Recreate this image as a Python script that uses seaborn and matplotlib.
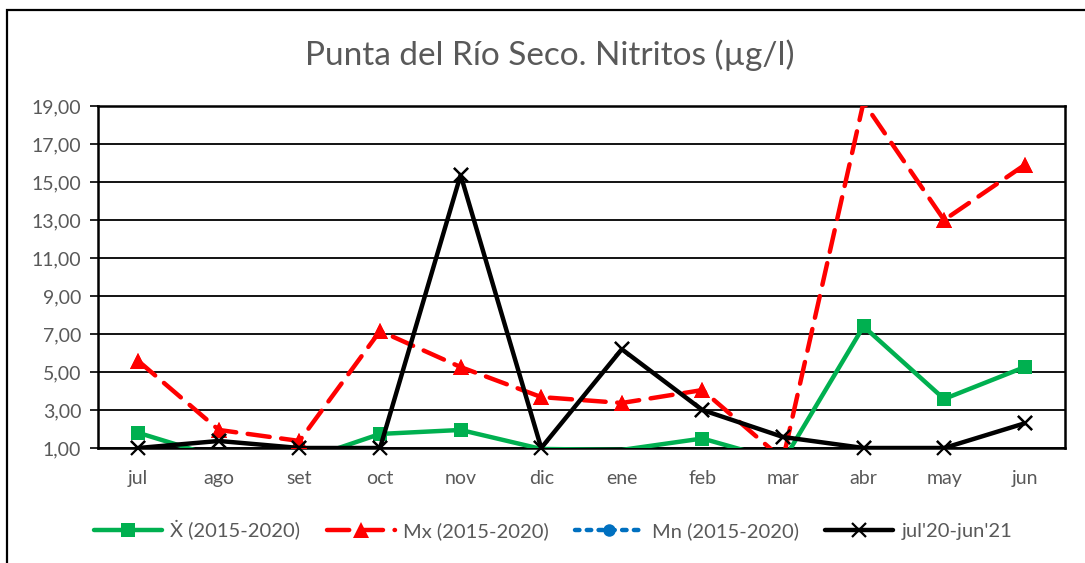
import numpy as np
import pandas as pd
import matplotlib
matplotlib.use("Agg")
import matplotlib.pyplot as plt
from matplotlib.patches import Rectangle
from matplotlib.ticker import FuncFormatter, FixedLocator
import seaborn as sns

# datos
meses = ['jul', 'ago', 'set', 'oct', 'nov', 'dic', 'ene', 'feb', 'mar', 'abr', 'may', 'jun']
media = [1.80, 0.50, 0.30, 1.74, 1.95, 0.95, 0.90, 1.50, 0.30, 7.40, 3.58, 5.26]
maximo = [5.58, 1.95, 1.37, 7.16, 5.26, 3.68, 3.37, 4.05, 0.40, 19.20, 13.00, 15.90]
minimo = [0.20, 0.20, 0.20, 0.20, 0.20, 0.20, 0.20, 0.20, 0.20, 0.20, 0.20, 0.20]
actual = [1.00, 1.37, 1.00, 1.00, 15.37, 1.00, 6.20, 3.00, 1.58, 1.00, 1.00, 2.30]
nombres = ['Ẋ (2015-2020)', 'Mx (2015-2020)', 'Mn (2015-2020)', "jul'20-jun'21"]
titulo = 'Punta del Río Seco. Nitritos (µg/l)'

sns.set_theme(style="white")
plt.rcParams['font.family'] = ['Lato', 'DejaVu Sans']
gris = '#595959'

fig = plt.figure(figsize=(10.85, 5.63), dpi=100)
ax = fig.add_axes([98/1085, 1-448/563, (1065-98)/1085, (448-106)/563])

pos = np.arange(len(meses))
series = [
    (media, '#00B050', '-', 's', 10, nombres[0]),
    (maximo, '#FF0000', (0, (5, 2.6)), '^', 11, nombres[1]),
    (minimo, '#0070C0', ':', 'o', 9, nombres[2]),
    (actual, '#000000', '-', 'x', 10, nombres[3]),
]
for i, (vals, col, ls, mk, ms, lab) in enumerate(series):
    v = np.array(vals)
    ok = (v >= 1) & (v <= 19)
    sns.lineplot(x=pos, y=vals, color=col, linestyle=ls, linewidth=3.2, marker=mk,
                 markersize=ms, markeredgecolor=col, markeredgewidth=1.6 if mk == 'x' else 0,
                 label=lab, ax=ax, zorder=3 + i, dash_capstyle='round')
    ax.lines[-1].set_markevery([int(k) for k in np.where(ok)[0]])
    # marcadores visibles sin recorte en el borde
    vis = np.where(ok, v, np.nan)
    ax.plot(pos, vis, linestyle='none', marker=mk, markersize=ms, color=col,
            markeredgecolor=col, markeredgewidth=1.6 if mk == 'x' else 0,
            clip_on=False, zorder=3 + i)

ax.set_xlim(-0.5, len(meses) - 0.5)
ax.set_ylim(1, 19)
ax.set_xticks(pos)
ax.set_xticklabels(meses)
ax.xaxis.set_minor_locator(FixedLocator(pos[:-1] + 0.5))
ax.tick_params(axis='x', which='major', length=0, pad=16, labelsize=14, labelcolor=gris)
ax.tick_params(axis='x', which='minor', length=6, direction='in', width=1.2, color='black')
ax.set_yticks(np.arange(1, 20, 2))
ax.yaxis.set_major_formatter(FuncFormatter(lambda v, p: f"{v:.2f}".replace('.', ',')))
ax.tick_params(axis='y', length=6, direction='out', width=1.2, color='black', labelsize=14,
               labelcolor=gris, pad=6, left=True)
ax.grid(axis='y', color='black', linewidth=1.3)
ax.set_axisbelow(True)
for s in ax.spines.values():
    s.set_color('black')
    s.set_linewidth(1.8)
ax.set_xlabel('')
ax.set_ylabel('')

ax.get_legend().remove()
handles, labels = ax.get_legend_handles_labels()
fig.legend(handles[:4], labels[:4], loc='center', bbox_to_anchor=(553/1085, 1-530/563), ncol=4,
           frameon=False, fontsize=14.5, labelcolor=gris, handlelength=3.4, columnspacing=1.3,
           handletextpad=0.4)

fig.text(550/1085, 1-55/563, titulo, ha='center', va='center', fontsize=24, color=gris)
fig.patches.append(Rectangle((7/1085, -0.1), 1.2, 1-10/563+0.1, transform=fig.transFigure,
                             fill=False, lw=1.6, ec='black'))

fig.savefig('out.png', dpi=100)
